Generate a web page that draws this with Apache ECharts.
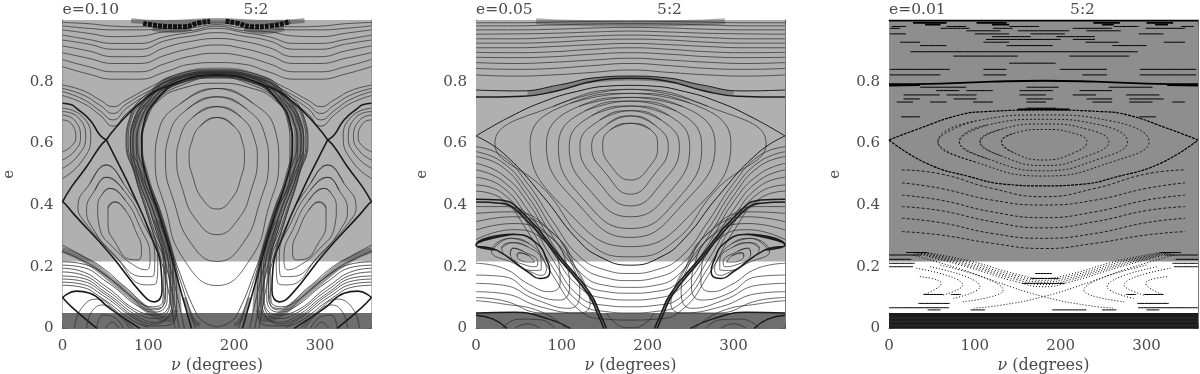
<!DOCTYPE html>
<html>
<head>
<meta charset="utf-8">
<style>
  html, body { margin: 0; background: #fff; }
  #chart { width: 1200px; height: 374px; }
</style>
<script src="https://cdn.jsdelivr.net/npm/echarts@6/dist/echarts.min.js"></script>
</head>
<body>
<div id="chart"></div>
<script>
const xTicks = [0, 100, 200, 300]
const yTicks = [0, 0.2, 0.4, 0.6, 0.8]
const titles = ['e=0.10', 'e=0.05', 'e=0.01']
const resonance = '5:2'
const bandEdges = [0, 0.05, 0.217, 1]

// ---- panel 1, e=0.10
const p1WaveNu = [0, 30, 60, 90, 120, 150, 180, 210, 240, 270, 300, 330, 360]
const p1Waves = [
  [.849, .825, .808, .808, .832, .857, .862, .857, .832, .808, .808, .825, .849],
  [.872, .849, .832, .832, .859, .883, .892, .883, .859, .832, .832, .849, .872],
  [.894, .876, .859, .859, .886, .908, .919, .908, .886, .859, .859, .876, .894],
  [.916, .900, .881, .881, .911, .931, .94, .931, .911, .881, .881, .900, .916],
  [.935, .922, .905, .905, .933, .948, .959, .948, .933, .905, .905, .922, .935],
  [.951, .937, .924, .924, .946, .960, .973, .960, .946, .924, .924, .937, .951],
  [.968, .957, .946, .948, .962, .966, .98, .966, .962, .948, .946, .957, .968],
  [.981, .973, .968, .968, .972, .975, .985, .975, .972, .968, .968, .973, .981],
  [.992, .988, .98, .978, .98, .985, .99, .985, .98, .978, .98, .988, .992]
]
const p1ValleyNu = [0, 24, 43.5, 59, 74.6, 101.7, 129, 180, 231, 258.3, 285.4, 301, 316.5, 336, 360]
const p1Valleys = [
  [.789, .771, .741, .719, .741, .782, .814, .835, .814, .782, .741, .719, .741, .771, .789],
  [.778, .757, .724, .697, .728, .771, .805, .829, .805, .771, .728, .697, .724, .757, .778],
  [.768, .743, .706, .676, .714, .762, .797, .823, .797, .762, .714, .676, .706, .743, .768],
  [.755, .730, .692, .656, .697, .754, .789, .816, .789, .754, .697, .656, .692, .730, .755]
]
const p1Chain = [[94, .989], [117, .98], [140, .978], [160, .991], [172, .996]]
const p1ChainRight = [[190, .996], [203, .99], [222, .978], [242, .981], [265, .995]]
const p1Haze = [
  [[80, .998], [120, .992], [180, .998], [240, .992], [282, .998]],
  [[105, .972], [130, .966], [150, .974]],
  [[212, .972], [235, .962], [258, .972]],
  [[133, .05], [127, .2], [110, .37], [92, .5], [84, .6], [90, .69], [108, .76], [135, .81], [180, .83], [225, .81], [252, .76], [270, .69], [276, .6], [268, .5], [250, .37], [233, .2], [227, .05]],
  [[0, .255], [30, .215], [60, .15], [90, .08], [110, .04], [126, .03], [131, .06]],
  [[360, .255], [330, .215], [300, .15], [270, .08], [250, .04], [234, .03], [229, .06]],
  [[142, .1], [152, .03], [160, .01]],
  [[218, .1], [208, .03], [200, .01]]
]
const p1Core = [
  [[180, .684], [200, .655], [210, .60], [212, .557], [208, .49], [197, .42], [180, .387], [163, .42], [152, .49], [147.5, .557], [150, .60], [160, .655], [180, .684]],
  [[180, .719], [208, .685], [224, .61], [227, .55], [220, .45], [205, .355], [180, .304], [155, .355], [140, .45], [133, .55], [136, .61], [152, .685], [180, .719]],
  [[180, .751], [215, .71], [236, .625], [240, .54], [230, .41], [210, .275], [180, .217], [150, .275], [130, .41], [120, .54], [124, .625], [145, .71], [180, .751]],
  [[180, .778], [222, .73], [248, .64], [252, .54], [240, .39], [220, .23], [180, .139], [140, .23], [120, .39], [108, .54], [112, .64], [138, .73], [180, .778]]
]
const p1Arches = [
  [[180, .005], [165, .02], [155, .054], [134, .2], [112, .373], [95, .5], [93, .6], [98, .676], [113, .741], [140, .779], [180, .795], [220, .779], [247, .741], [262, .676], [265, .6], [265, .5], [248, .373], [226, .2], [205, .054], [195, .02], [180, .005]],
  [[155, 0], [142, .114], [131, .211], [116, .362], [100, .492], [93, .6], [96, .665], [111, .741], [138, .795], [180, .812], [222, .795], [249, .741], [264, .665], [267, .6], [260, .492], [244, .362], [229, .211], [218, .114], [205, 0]],
  [[142, 0], [133, .114], [124, .211], [108, .362], [92, .492], [86, .6], [90, .665], [105, .741], [133, .806], [180, .826], [227, .806], [255, .741], [270, .665], [274, .6], [268, .492], [252, .362], [236, .211], [227, .114], [218, 0]],
  [[136, 0], [128, .114], [120, .211], [104, .362], [88, .492], [82, .6], [86, .665], [101, .741], [130, .812], [180, .832], [230, .812], [259, .741], [274, .665], [278, .6], [272, .492], [256, .362], [240, .211], [232, .114], [224, 0]],
  [[131, 0], [124, .114], [116, .211], [100, .362], [85, .492], [79, .6], [83, .665], [97, .741], [127, .818], [180, .838], [233, .818], [263, .741], [277, .665], [281, .6], [275, .492], [260, .362], [244, .211], [236, .114], [229, 0]],
  [[0, .216], [20, .211], [55, .162], [94, .076], [109.5, .065], [120, .097], [119, .189], [105.6, .351], [86, .503], [76.5, .6], [80, .676], [102, .751], [133, .805], [180, .832], [227, .805], [258, .751], [280, .676], [283.5, .6], [274, .503], [254.4, .351], [241, .189], [240, .097], [250.5, .065], [266, .076], [305, .162], [340, .211], [360, .216]],
  [[0, .195], [20, .187], [51, .135], [90, .054], [109.5, .043], [125, .092], [124, .189], [109.5, .351], [89, .503], [79, .6], [83, .676], [105, .746], [135, .8], [180, .827], [225, .8], [255, .746], [277, .676], [281, .6], [271, .503], [250.5, .351], [236, .189], [235, .092], [250.5, .043], [270, .054], [309, .135], [340, .187], [360, .195]],
  [[0, .17], [20, .165], [51, .115], [90, .035], [109.5, .02], [128, .09], [128, .189], [113, .351], [92, .503], [82, .6], [86, .676], [107, .742], [137, .795], [180, .82], [223, .795], [253, .742], [274, .676], [278, .6], [268, .503], [247, .351], [232, .189], [232, .09], [250.5, .02], [270, .035], [309, .115], [340, .165], [360, .17]],
  [[0, .15], [20, .145], [48, .105], [85, .03], [105, .008], [126, .012], [133, .09], [131, .189], [116, .351], [96, .503], [87, .6], [91, .676], [110, .742], [140, .79], [180, .815], [220, .79], [250, .742], [269, .676], [273, .6], [264, .503], [244, .351], [229, .189], [227, .09], [234, .012], [255, .008], [275, .03], [312, .105], [340, .145], [360, .15]],
  [[0, .27], [20, .24], [45, .2], [75, .13], [105, .07], [117, .09], [118, .19], [103, .33], [84, .5], [74, .6], [78, .68], [98, .76], [131, .81], [180, .83], [229, .81], [262, .76], [282, .68], [286, .6], [276, .5], [257, .33], [242, .19], [243, .09], [255, .07], [285, .13], [315, .2], [340, .24], [360, .27]],
  [[0, .25], [20, .225], [45, .185], [75, .115], [105, .06], [118, .08], [120, .19], [104, .34], [85, .5], [75, .6], [79, .68], [100, .755], [132, .81], [180, .828], [228, .81], [260, .755], [281, .68], [285, .6], [275, .5], [256, .34], [240, .19], [242, .08], [255, .06], [285, .115], [315, .185], [340, .225], [360, .25]],
  // white band strands that wrap under the side lobes
  [[0, .205], [20, .2], [53, .148], [92, .065], [109, .053], [122, .095], [121, .19], [107, .35]],
  [[0, .183], [20, .176], [51, .125], [90, .045], [109, .032], [126, .09], [126, .19], [111, .35]],
  [[0, .16], [20, .155], [50, .11], [87, .032], [107, .014], [130, .09], [129, .19], [114, .35]],
  [[0, .14], [20, .135], [46, .098], [82, .025], [100, .004]],
  [[360, .205], [340, .2], [307, .148], [268, .065], [251, .053], [238, .095], [239, .19], [253, .35]],
  [[360, .183], [340, .176], [309, .125], [270, .045], [251, .032], [234, .09], [234, .19], [249, .35]],
  [[360, .16], [340, .155], [310, .11], [273, .032], [253, .014], [230, .09], [231, .19], [246, .35]],
  [[360, .14], [340, .135], [314, .098], [278, .025], [260, .004]]
]
const p1Separatrix = [
  [[0, .41], [10.5, .459], [28, .524], [43.5, .589], [51, .611]],
  [[51, .611], [61, .557], [82, .438], [102, .308], [115, .189], [116, .124], [107.5, .086], [94, .108], [55, .243], [12.4, .373], [2.7, .405], [0, .41]],
  [[360, .41], [349.5, .459], [332, .524], [316.5, .589], [309, .611]],
  [[309, .611], [299, .557], [278, .438], [258, .308], [245, .189], [244, .124], [252.5, .086], [266, .108], [305, .243], [347.6, .373], [357.3, .405], [360, .41]],
  [[0, .73], [10.5, .725], [16, .714], [32, .676], [43.5, .627], [51, .611]],
  [[51, .611], [63, .654], [90, .73], [121, .784], [180, .822], [239, .784], [270, .73], [297, .654], [309, .611]],
  [[309, .611], [316.5, .627], [328, .676], [344, .714], [349.5, .725], [360, .73]],
  [[150.3, 0], [138.6, .114], [129, .211], [113.4, .362], [98, .492], [92, .6], [94.7, .665], [109.5, .741], [136, .80], [180, .82], [224, .80], [250.5, .741], [265.3, .665], [268, .6], [262, .492], [246.6, .362], [231, .211], [221.4, .114], [209.7, 0]],
  [[0, .10], [16, .121], [32, .114], [55, .065], [90, 0]],
  [[360, .10], [344, .121], [328, .114], [305, .065], [270, 0]],
  [[0, .10], [10.5, .07], [40, 0]],
  [[360, .10], [349.5, .07], [320, 0]]
]
const p1Loops = [
  // edge lobes at nu=0
  [[0, .676], [10, .665], [15.5, .62], [10, .59], [0, .573]],
  [[0, .692], [14, .675], [21, .62], [14, .575], [0, .546]],
  [[0, .703], [18, .685], [27, .62], [18, .56], [0, .519]],
  [[0, .714], [22, .69], [33, .62], [22, .54], [0, .486]],
  [[360, .676], [350, .665], [344.5, .62], [350, .59], [360, .573]],
  [[360, .692], [346, .675], [339, .62], [346, .575], [360, .546]],
  [[360, .703], [342, .685], [333, .62], [342, .56], [360, .519]],
  [[360, .714], [338, .69], [327, .62], [338, .54], [360, .486]],
  // main side lobes
  [[61, .41], [73, .384], [84.6, .32], [92, .254], [88, .222], [78.5, .224], [62, .276], [53, .34], [53, .389], [61, .41]],
  [[55, .454], [73, .416], [90, .33], [102, .233], [98, .19], [86, .20], [62, .254], [43, .33], [41, .395], [47, .438], [55, .454]],
  [[51, .49], [71, .449], [94, .341], [107.5, .233], [105, .168], [94, .168], [62, .232], [34, .33], [28, .384], [38, .449], [51, .49]],
  [[51, .53], [71, .47], [98, .341], [111, .222], [109, .146], [98, .141], [59, .243], [24, .352], [18, .395], [32, .47], [51, .53]],
  [[299, .41], [287, .384], [275.4, .32], [268, .254], [272, .222], [281.5, .224], [298, .276], [307, .34], [307, .389], [299, .41]],
  [[305, .454], [287, .416], [270, .33], [258, .233], [262, .19], [274, .20], [298, .254], [317, .33], [319, .395], [313, .438], [305, .454]],
  [[309, .49], [289, .449], [266, .341], [252.5, .233], [255, .168], [266, .168], [298, .232], [326, .33], [332, .384], [322, .449], [309, .49]],
  [[309, .53], [289, .47], [262, .341], [249, .222], [251, .146], [262, .141], [301, .243], [336, .352], [342, .395], [328, .47], [309, .53]],
  // small lobes touching the axis
  [[14, 0], [22, .065], [40, .095], [59, .065], [82, 0]],
  [[28, 0], [34, .054], [47, .076], [67, .038], [78, 0]],
  [[40, 0], [47, .043], [59, .038], [71, 0]],
  [[50, 0], [58, .02], [66, 0]],
  [[346, 0], [338, .065], [320, .095], [301, .065], [278, 0]],
  [[332, 0], [326, .054], [313, .076], [293, .038], [282, 0]],
  [[320, 0], [313, .043], [301, .038], [289, 0]],
  [[310, 0], [302, .02], [294, 0]]
]

// ---- panel 2, e=0.05
const p2WaveNu = [0, 45, 90, 135, 180, 225, 270, 315, 360]
const p2Waves = [
  [.822, .818, .822, .830, .838, .830, .822, .818, .822],
  [.843, .840, .843, .852, .859, .852, .843, .840, .843],
  [.862, .859, .863, .870, .876, .870, .863, .859, .862],
  [.879, .878, .881, .889, .894, .889, .881, .878, .879],
  [.895, .894, .897, .905, .910, .905, .897, .894, .895],
  [.910, .910, .914, .920, .924, .920, .914, .910, .910],
  [.925, .925, .928, .935, .938, .935, .928, .925, .925],
  [.939, .939, .943, .948, .951, .948, .943, .939, .939],
  [.954, .955, .957, .961, .964, .961, .957, .955, .954],
  [.968, .968, .970, .974, .976, .974, .970, .968, .968],
  [.981, .981, .984, .987, .988, .987, .984, .981, .981],
  [.991, .991, .993, .995, .996, .995, .993, .991, .991]
]
const p2SagNu = [0, 30, 60, 90, 120, 150, 180, 210, 240, 270, 300, 330, 360]
const p2Sags = [
  [.589, .56, .47, .345, .235, .19, .178, .19, .235, .345, .47, .56, .589],
  [.573, .54, .45, .32, .21, .165, .155, .165, .21, .32, .45, .54, .573],
  [.557, .525, .43, .295, .185, .14, .133, .14, .185, .295, .43, .525, .557],
  [.535, .50, .41, .27, .16, .12, .114, .12, .16, .27, .41, .50, .535],
  [.514, .48, .385, .245, .135, .098, .092, .098, .135, .245, .385, .48, .514],
  [.49, .46, .36, .22, .105, .075, .07, .075, .105, .22, .36, .46, .49],
  [.465, .44, .34, .195, .085, .055, .05, .055, .085, .195, .34, .44, .465],
  [.445, .42, .315, .17, .06, .03, .027, .03, .06, .17, .315, .42, .445]
]
const p2Haze = [
  [[70, .996], [120, .99], [180, .988], [240, .99], [290, .996]],
  [[60, .761], [94, .778], [140, .806], [180, .812], [220, .806], [266, .778], [300, .761]],
  [[30, .412], [59, .355], [98, .225], [131, .11], [146, .03]],
  [[330, .412], [301, .355], [262, .225], [229, .11], [214, .03]]
]
const p2Core = [
  [[180, .665], [203, .645], [211.6, .595], [205, .535], [180, .481], [155, .535], [147.6, .595], [157, .645], [180, .665]],
  [[180, .689], [208, .66], [224, .59], [208, .50], [180, .435], [152, .50], [134.7, .59], [152, .66], [180, .689]],
  [[180, .706], [216, .675], [237, .59], [216, .47], [180, .397], [144, .47], [121, .59], [144, .675], [180, .706]],
  [[180, .721], [225, .69], [249, .59], [225, .44], [180, .362], [135, .44], [108.6, .59], [135, .69], [180, .721]],
  [[180, .737], [233, .705], [263, .59], [232, .41], [180, .324], [128, .41], [96, .59], [127, .705], [180, .737]],
  [[180, .749], [240, .72], [278.6, .595], [240, .40], [180, .295], [120, .40], [82, .595], [120, .72], [180, .749]],
  [[180, .762], [250, .73], [297, .60], [250, .37], [180, .265], [110, .37], [63, .60], [110, .73], [180, .762]],
  [[180, .775], [270, .72], [338, .60], [280, .45], [230, .28], [180, .232], [130, .28], [80, .45], [22, .60], [90, .72], [180, .775]]
]
const p2Diamond = [
  [[0, .624], [39.6, .686], [78.4, .735], [117, .768], [156, .786], [180, .788], [204, .786], [243, .768], [281.6, .735], [320.4, .686], [360, .624]],
  [[0, .624], [31.8, .568], [78.4, .427], [117, .292], [144.5, .232], [180, .205], [215.5, .232], [243, .292], [281.6, .427], [328.2, .568], [360, .624]]
]
const p2Separatrix = [
  [[0, .75], [55, .753], [94, .77], [140, .803], [180, .811], [220, .803], [266, .77], [305, .753], [360, .75]],
  [[0, .773], [50, .77], [98, .79], [140, .813], [180, .818], [220, .813], [262, .79], [310, .77], [360, .773]],
  [[0, .419], [28, .416], [59, .362], [98, .232], [133, .114], [146, .038], [152, 0]],
  [[360, .419], [332, .416], [301, .362], [262, .232], [227, .114], [214, .038], [208, 0]],
  [[0, .41], [28, .406], [59, .35], [98, .222], [131, .11], [143, .038], [149, 0]],
  [[360, .41], [332, .406], [301, .35], [262, .222], [229, .11], [217, .038], [211, 0]],
  [[0, .27], [43.5, .305], [70.7, .276], [84, .211], [86, .185], [82, .165], [74, .162], [62, .18], [24, .254], [0, .27]],
  [[360, .27], [316.5, .305], [289.3, .276], [276, .211], [274, .185], [278, .165], [286, .162], [298, .18], [336, .254], [360, .27]],
  [[0, .05], [45, .052], [85, .03], [110, 0]],
  [[360, .05], [315, .052], [275, .03], [250, 0]],
  [[0, .043], [20, .03], [36, 0]],
  [[360, .043], [340, .03], [324, 0]]
]
const p2Loops = [
  [[50, .245], [62, .235], [68, .215], [60, .215], [48, .235], [50, .245]],
  [[43, .26], [55, .25], [72, .215], [70, .2], [58, .205], [40, .24], [43, .26]],
  [[42, .278], [60, .265], [76, .22], [76, .19], [66, .188], [35, .235], [30, .26], [42, .278]],
  [[40, .292], [62, .275], [80, .215], [82, .19], [76, .172], [68, .178], [45, .21], [18, .25], [40, .292]],
  [[310, .245], [298, .235], [292, .215], [300, .215], [312, .235], [310, .245]],
  [[317, .26], [305, .25], [288, .215], [290, .2], [302, .205], [320, .24], [317, .26]],
  [[318, .278], [300, .265], [284, .22], [284, .19], [294, .188], [325, .235], [330, .26], [318, .278]],
  [[320, .292], [298, .275], [280, .215], [278, .19], [284, .172], [292, .178], [315, .21], [342, .25], [320, .292]],
  // lines wrapped round the side lobes, from the left and right edges
  [[0, .288], [43, .32], [78, .288], [97, .2], [98, .146], [86, .119], [63, .141], [32, .195], [0, .211]],
  [[0, .319], [43, .34], [86, .297], [106, .2], [109, .135], [98, .092], [66, .113], [32, .168], [0, .173]],
  [[0, .346], [43, .362], [90, .308], [113, .2], [121, .114], [109, .065], [71, .092], [32, .14], [0, .146]],
  [[0, .373], [40, .378], [94, .297], [119, .178], [133, .081], [121, .05], [75, .07], [32, .113], [0, .119]],
  [[0, .395], [36, .395], [78, .319], [113, .211], [135, .097], [143, .054], [78, .05], [32, .09], [0, .1]],
  [[360, .288], [317, .32], [282, .288], [263, .2], [262, .146], [274, .119], [297, .141], [328, .195], [360, .211]],
  [[360, .319], [317, .34], [274, .297], [254, .2], [251, .135], [262, .092], [294, .113], [328, .168], [360, .173]],
  [[360, .346], [317, .362], [270, .308], [247, .2], [239, .114], [251, .065], [289, .092], [328, .14], [360, .146]],
  [[360, .373], [320, .378], [266, .297], [241, .178], [227, .081], [239, .05], [285, .07], [328, .113], [360, .119]],
  [[360, .395], [324, .395], [282, .319], [247, .211], [225, .097], [217, .054], [282, .05], [328, .09], [360, .1]],
  // inner bottom lobes and the little arc at the centre
  [[30, 0], [50, .03], [75, .028], [92, 0]],
  [[45, 0], [60, .015], [75, 0]],
  [[330, 0], [310, .03], [285, .028], [268, 0]],
  [[315, 0], [300, .015], [285, 0]],
  [[152, .05], [165, .012], [180, .002], [195, .012], [208, .05]],
  [[0, .09], [30, .08], [75, .055], [105, 0]],
  [[360, .09], [330, .08], [285, .055], [255, 0]]
]

// ---- panel 3, e=0.01, contours come out as broken rows
const p3RowE = [.998, .991, .985, .979, .973, .965, .955, .946, .937, .928, .917, .897, .883, .86, .84, .822, .782, .771, .757, .744, .734, .714, .686, .246, .238, .224, .211, .2, .178, .162, .146, .11, .081, .067, .06]
const p3RowSpans = [
  [[0, 360]],
  [[28, 67], [102, 137], [238, 269], [300, 331]],
  [[42, 60], [120, 140], [248, 262], [310, 325]],
  [[3, 20], [67, 90], [140, 175], [262, 291], [340, 355]],
  [[1, 13], [60, 94], [121, 144], [214, 260], [299, 345]],
  [[90, 130], [150, 210], [230, 270]],
  [[1, 20], [100, 140], [165, 205], [291, 320]],
  [[120, 165], [195, 240]],
  [[113, 200], [214, 240]],
  [[13, 36], [110, 140], [229, 268], [320, 345]],
  [[36, 67], [137, 191], [260, 300]],
  [[25, 290]],
  [[75, 150], [210, 280]],
  [[140, 194]],
  [[1, 71], [110, 137], [199, 254], [292, 358]],
  [[1, 60], [110, 137], [225, 254], [292, 358]],
  [[36, 90], [160, 198], [256, 307]],
  [[55, 82], [90, 121], [152, 191], [222, 260]],
  [[17, 59], [67, 102], [152, 183], [214, 241], [276, 315]],
  [[17, 36], [75, 102], [160, 191], [230, 260], [280, 320]],
  [[9, 28], [48, 67], [98, 121], [160, 183], [237, 260], [280, 307], [330, 345]],
  [[160, 195]],
  [[14, 36], [291, 311]],
  [[20, 45], [315, 340]],
  [[0, 38], [322, 360]],
  [[0, 26], [334, 360]],
  [[0, 30], [330, 360]],
  [[0, 28], [332, 360]],
  [[170, 190]],
  [[165, 198]],
  [[155, 205]],
  [[40, 63], [72, 84], [276, 288], [297, 320]],
  [[34, 71], [289, 326]],
  [[0, 70], [290, 360]],
  [[45, 60], [95, 112], [190, 230], [248, 265], [300, 315]]
]
const p3Thick = [
  [[0, .792], [60, .794], [120, .80], [180, .803], [240, .80], [300, .794], [360, .792]],
  [[0, .787], [36, .789]],
  [[324, .789], [360, .787]],
  [[150, .71], [180, .711], [210, .71]]
]
const p3Separatrix = [
  [[0, .611], [36, .649], [82, .692], [113, .703], [180, .708], [247, .703], [278, .692], [324, .649], [360, .611]],
  [[0, .611], [44, .535], [94, .492], [137, .467], [180, .462], [223, .467], [266, .492], [316, .535], [360, .611]]
]
const p3Core = [
  [[131, .605], [145, .632], [180, .645], [216, .632], [230.6, .605], [216, .57], [180, .546], [145, .57], [131, .605]],
  [[106, .605], [130, .645], [180, .663], [232, .645], [256, .605], [232, .56], [180, .528], [130, .56], [106, .605]],
  [[82, .605], [115, .66], [180, .678], [245, .66], [278, .605], [245, .55], [180, .511], [115, .55], [82, .605]],
  [[57, .605], [100, .672], [180, .692], [260, .672], [303, .605], [260, .54], [180, .494], [100, .54], [57, .605]]
]
const p3SagNu = [15, 60, 120, 180, 240, 300, 345]
const p3Sags = [
  [.514, .501, .454, .427, .454, .501, .514],
  [.472, .454, .416, .40, .416, .454, .472],
  [.432, .416, .378, .359, .378, .416, .432],
  [.395, .382, .346, .326, .346, .382, .395],
  [.357, .343, .308, .292, .308, .343, .357],
  [.314, .303, .276, .259, .276, .303, .314]
]
const p3Cross = [
  [[28, .238], [87, .189], [125, .151], [180, .103], [230, .075], [261, .066]],
  [[332, .238], [273, .189], [235, .151], [180, .103], [130, .075], [99, .066]],
  [[30, .245], [90, .2], [150, .15], [180, .135], [210, .15], [270, .2], [330, .245]],
  [[34, .245], [90, .205], [150, .157], [180, .142], [210, .157], [270, .205], [326, .245]],
  [[38, .245], [90, .21], [150, .163], [180, .15], [210, .163], [270, .21], [322, .245]],
  [[42, .245], [92, .214], [150, .169], [180, .156], [210, .169], [268, .214], [318, .245]],
  [[46, .245], [95, .218], [150, .175], [180, .162], [210, .175], [265, .218], [314, .245]],
  [[36, .168], [61, .146], [40, .108]],
  [[32, .195], [86, .14], [63, .108]],
  [[48, .2], [106, .135], [75, .097]],
  [[60, .205], [133, .124], [86, .086]],
  [[324, .168], [299, .146], [320, .108]],
  [[328, .195], [274, .14], [297, .108]],
  [[312, .2], [254, .135], [285, .097]],
  [[300, .205], [227, .124], [274, .086]]
]
const p3DarkStripes = [.034, .022, .01]

const panels = [
  { left: 62.5, bg: ['#6e6e6e', '#ffffff', '#b0b0b0'], ink: '#2a2a2a' },
  { left: 476, bg: ['#6e6e6e', '#ffffff', '#b0b0b0'], ink: '#2a2a2a' },
  { left: 889, bg: ['#1c1c1c', '#ffffff', '#8e8e8e'], ink: '#000000' }
]
const panelTop = 20
const panelWidth = 309
const panelHeight = 308.4
const labelFont = 'DejaVu Serif'
const labelColor = '#4a4a4a'

const series = []

function curve(idx, points, width, dash, color, z) {
  series.push({
    type: 'line',
    xAxisIndex: idx,
    yAxisIndex: idx,
    data: points,
    smooth: 0.5,
    showSymbol: false,
    silent: true,
    animation: false,
    z: z || 3,
    lineStyle: { width: width, color: color || panels[idx].ink, type: dash || 'solid', cap: 'butt' }
  })
}

// closed contours: overlap the seam so the smoothing has no corner there
function closed(c) {
  return [c[c.length - 2], ...c, c[1]]
}

function onGrid(nu, values) {
  return nu.map((n, i) => [n, values[i]])
}

function rowPoints(e, spans) {
  const pts = []
  spans.forEach(s => pts.push([s[0], e], [s[1], e], [null, null]))
  return pts
}

// colour bands behind the contours
panels.forEach((p, i) => {
  series.push({
    type: 'line',
    xAxisIndex: i,
    yAxisIndex: i,
    data: [],
    silent: true,
    animation: false,
    z: 1,
    markArea: {
      silent: true,
      animation: false,
      data: [0, 1, 2].map(b => [
        { yAxis: bandEdges[b], itemStyle: { color: p.bg[b], opacity: 1 } },
        { yAxis: bandEdges[b + 1] }
      ])
    }
  })
})

p1Haze.forEach((c, i) => curve(0, c, i < 3 ? 5 : (i === 3 ? 10 : (i < 6 ? 6 : 4)), 'solid', 'rgba(60,60,60,0.5)', 2))
p1Waves.forEach(w => curve(0, onGrid(p1WaveNu, w), 0.7))
p1Valleys.forEach(w => curve(0, onGrid(p1ValleyNu, w), 0.7))
curve(0, p1Chain, 5, [4, 1], '#111')
curve(0, p1ChainRight, 5, [4, 1], '#111')
p1Core.forEach(c => curve(0, closed(c), 0.7))
p1Arches.forEach(c => curve(0, c, 0.8, 'solid', '#303030'))
p1Separatrix.forEach(c => curve(0, c, 1.6, 'solid', '#1a1a1a'))
p1Loops.forEach((c, i) => curve(0, i >= 8 && i < 16 ? closed(c) : c, 0.7))

p2Haze.forEach((c, i) => curve(1, c, i === 0 ? 6 : (i === 1 ? 5 : 3), 'solid', 'rgba(60,60,60,0.4)', 2))
p2Waves.forEach(w => curve(1, onGrid(p2WaveNu, w), 0.7))
p2Sags.forEach(w => curve(1, onGrid(p2SagNu, w), 0.7))
p2Core.forEach(c => curve(1, closed(c), 0.7))
p2Diamond.forEach(c => curve(1, c, 1, 'solid', '#1a1a1a'))
p2Separatrix.forEach((c, i) => curve(1, i === 6 || i === 7 ? closed(c) : c, i === 1 ? 1 : 1.5, 'solid', '#1a1a1a'))
p2Loops.forEach((c, i) => curve(1, i < 8 ? closed(c) : c, 0.7))

p3DarkStripes.forEach(e => curve(2, rowPoints(e, [[0, 360]]), 1, 'solid', '#303030'))
p3RowE.forEach((e, r) => curve(2, rowPoints(e, p3RowSpans[r]), e > .98 ? 1.8 : 1, 'solid', '#000'))
p3Thick.forEach(c => curve(2, c, 1.8, 'solid', '#000'))
p3Separatrix.forEach(c => curve(2, c, 1.2, [3, 1], '#000'))
p3Core.forEach(c => curve(2, closed(c), 0.8, [2, 2], '#000'))
p3Sags.forEach(w => curve(2, onGrid(p3SagNu, w), 0.8, [3, 2], '#000'))
p3Cross.forEach(c => curve(2, c, 1, [1, 2], '#000'))

const frameLine = { onZero: false, lineStyle: { color: '#555', width: 0.8 } }
const tick = { inside: true, length: 5, lineStyle: { color: '#444', width: 0.7 } }
const titleStyle = { fontFamily: labelFont, fontWeight: 'normal', fontSize: 15.5, color: labelColor }

// second axes only repeat the ticks along the top and right of each frame
const mirrorX = panels.map((p, i) => ({
  type: 'value', gridIndex: i, position: 'top', min: 0, max: 360, interval: 100,
  splitLine: { show: false }, axisLabel: { show: false }, axisLine: frameLine, axisTick: tick,
  minorTick: { show: true, splitNumber: 5, length: 2.5, lineStyle: { color: '#444', width: 0.6 } }
}))
const mirrorY = panels.map((p, i) => ({
  type: 'value', gridIndex: i, position: 'right', min: 0, max: 1, interval: 0.2,
  splitLine: { show: false }, axisLabel: { show: false }, axisLine: frameLine, axisTick: tick,
  minorTick: { show: true, splitNumber: 4, length: 2.5, lineStyle: { color: '#444', width: 0.6 } }
}))

const option = {
  animation: false,
  backgroundColor: '#fff',
  title: panels.flatMap((p, i) => [
    { text: titles[i], left: p.left, top: 2, padding: 0, textStyle: titleStyle },
    { text: resonance, left: p.left + 193.5, top: 2, padding: 0, textAlign: 'center', textStyle: titleStyle }
  ]),
  grid: panels.map(p => ({
    left: p.left,
    top: panelTop,
    width: panelWidth,
    height: panelHeight,
    outerBoundsMode: 'none',
    show: false
  })),
  xAxis: panels.map((p, i) => ({
    type: 'value',
    gridIndex: i,
    position: 'bottom',
    min: 0,
    max: 360,
    interval: 100,
    splitLine: { show: false },
    axisLine: frameLine,
    axisTick: tick,
    minorTick: { show: true, splitNumber: 5, length: 2.5, lineStyle: { color: '#444', width: 0.6 } },
    axisLabel: {
      showMaxLabel: false,
      margin: 10,
      fontFamily: labelFont,
      fontSize: 15,
      color: labelColor,
      formatter: v => xTicks.includes(v) ? String(v) : ''
    },
    name: '{i|\u03bd} (degrees)',
    nameLocation: 'middle',
    nameGap: 27,
    nameTextStyle: {
      fontFamily: labelFont,
      fontSize: 16,
      color: labelColor,
      rich: { i: { fontFamily: labelFont, fontStyle: 'italic', fontSize: 16, color: labelColor } }
    }
  })).concat(mirrorX),
  yAxis: panels.map((p, i) => ({
    type: 'value',
    gridIndex: i,
    position: 'left',
    min: 0,
    max: 1,
    interval: 0.2,
    splitLine: { show: false },
    axisLine: frameLine,
    axisTick: tick,
    minorTick: { show: true, splitNumber: 4, length: 2.5, lineStyle: { color: '#444', width: 0.6 } },
    axisLabel: {
      showMaxLabel: false,
      margin: 9,
      fontFamily: labelFont,
      fontSize: 15,
      color: labelColor,
      formatter: v => yTicks.includes(v) ? String(v) : ''
    },
    name: 'e',
    nameLocation: 'middle',
    nameGap: 46,
    nameTextStyle: { fontFamily: labelFont, fontSize: 15, color: labelColor }
  })).concat(mirrorY),
  series: series
}

const myChart = echarts.init(document.getElementById('chart'), null, { renderer: 'canvas' })
myChart.setOption(option)
</script>
</body>
</html>
